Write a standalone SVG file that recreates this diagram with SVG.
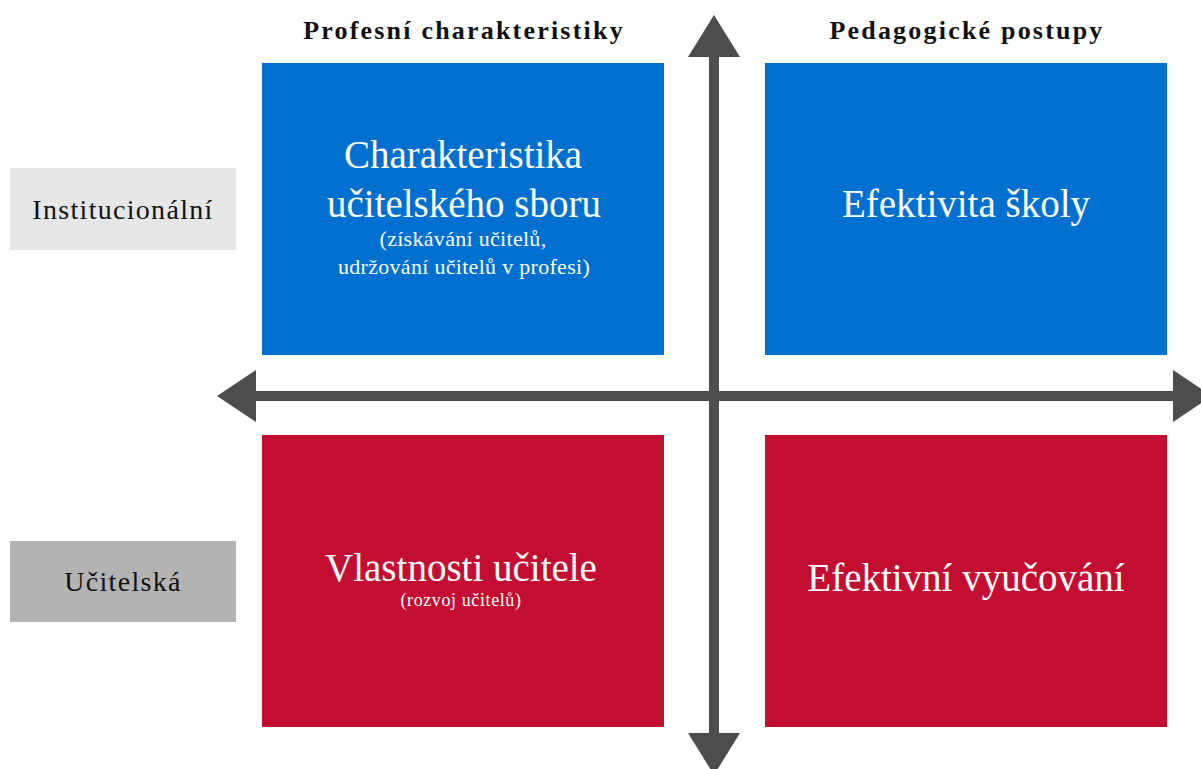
<svg xmlns="http://www.w3.org/2000/svg" width="1201" height="769" viewBox="0 0 1201 769">
<style>
.hdr{font-family:"Liberation Serif",serif;font-weight:bold;font-size:26px;fill:#111;text-anchor:middle;letter-spacing:2.2px}
.lbl{font-family:"Liberation Serif",serif;font-size:28px;fill:#111;text-anchor:middle;letter-spacing:1.3px}
.big{font-family:"Liberation Serif",serif;font-size:39px;fill:#fff;text-anchor:middle}
.sm{font-family:"Liberation Serif",serif;font-size:22px;fill:#fff;text-anchor:middle;letter-spacing:0.3px}
.xs{font-family:"Liberation Serif",serif;font-size:18px;fill:#fff;text-anchor:middle;letter-spacing:0.6px}
.blue{fill:#0070D0}
.red{fill:#C40E31}
.ax{fill:#4D4D4D}
</style>
<rect width="1201" height="769" fill="#fff"/>
<g id="header-left"><text class="hdr" x="464" y="39">Profesní charakteristiky</text></g>
<g id="header-right"><text class="hdr" x="967" y="39">Pedagogické postupy</text></g>
<g id="label-inst"><rect x="10" y="168" width="226" height="82" fill="#E6E6E6"/><text class="lbl" x="123" y="219">Institucionální</text></g>
<g id="label-ucit"><rect x="10" y="541" width="226" height="81" fill="#B3B3B3"/><text class="lbl" x="123" y="591">Učitelská</text></g>
<g id="q1"><rect class="blue" x="262" y="63" width="402" height="292"/>
<text class="big" x="463" y="168">Charakteristika</text>
<text class="big" x="464" y="217">učitelského sboru</text>
<text class="sm" x="463" y="246">(získávání učitelů,</text>
<text class="sm" x="464" y="274">udržování učitelů v profesi)</text></g>
<g id="q2"><rect class="blue" x="765" y="63" width="402" height="292"/>
<text class="big" x="966" y="217">Efektivita školy</text></g>
<g id="q3"><rect class="red" x="262" y="435" width="402" height="292"/>
<text class="big" x="461" y="581">Vlastnosti učitele</text>
<text class="xs" x="461" y="606">(rozvoj učitelů)</text></g>
<g id="q4"><rect class="red" x="765" y="435" width="402" height="292"/>
<text class="big" x="966" y="591">Efektivní vyučování</text></g>
<g id="connectors">
<rect class="ax" x="709" y="55" width="10" height="680"/>
<polygon class="ax" points="714,15 740,57 688,57"/>
<polygon class="ax" points="714,775 740,733 688,733"/>
<rect class="ax" x="254" y="391" width="921" height="10"/>
<polygon class="ax" points="217,396 256,370 256,422"/>
<polygon class="ax" points="1212,396 1173,370 1173,422"/>
</g>
</svg>
